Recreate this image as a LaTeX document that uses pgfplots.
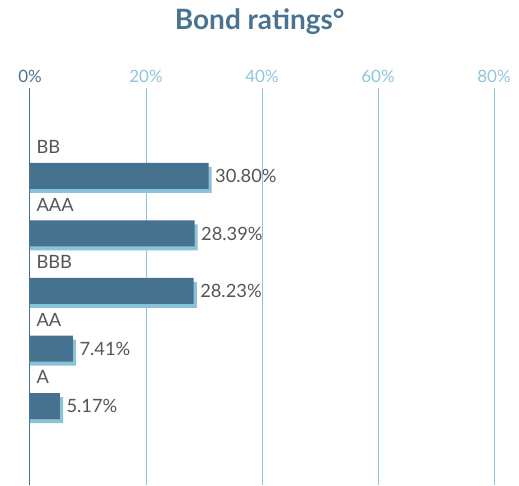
\documentclass[border=0pt]{standalone}
\usepackage{pgfplots}
\pgfplotsset{compat=1.18}
\usepackage{fontspec}
\setmainfont{Lato}
\definecolor{bardark}{HTML}{46718F}
\definecolor{barshadow}{HTML}{8AC2D8}
\definecolor{gridblue}{HTML}{8EC5DB}
\definecolor{titleblue}{HTML}{4A7391}
\definecolor{txtgray}{HTML}{555555}
\pgfplotstableread{
y val shadow
0 30.80 31.32
1 28.39 28.91
2 28.23 28.75
3 7.41 7.93
4 5.17 5.69
}\bonds
\begin{document}
\begin{tikzpicture}
\begin{axis}[
  scale only axis,
  width=464pt, height=397pt,
  xmin=0, xmax=80,
  ymin=-1.530, ymax=5.374,
  y dir=reverse,
  axis line style={draw=none},
  major tick length=0pt,
  xtick={20,40,60,80},
  extra x ticks={0},
  extra x tick style={grid style={bardark, line width=1pt}, tick label style={text=titleblue}},
  xticklabel pos=top,
  xticklabel={\pgfmathprintnumber{\tick}\%},
  ytick=\empty,
  xmajorgrids,
  grid style={gridblue, line width=0.8pt},
  tick label style={font=\fontsize{17}{19}\selectfont, text=gridblue},
  xticklabel style={yshift=2pt},
  /pgf/number format/assume math mode=true,
  xbar, bar width=26pt,
  clip=false,
]
\addplot[fill=barshadow, draw=none, bar shift=-4pt] table[x=shadow, y=y] {\bonds};
\addplot[fill=bardark, draw=none, bar shift=0pt,
  nodes near coords={\pgfmathprintnumber[fixed,fixed zerofill,precision=2]{\pgfplotspointmeta}\%},
  nodes near coords style={anchor=west, xshift=3pt, text=txtgray, font=\fontsize{18.3}{20}\selectfont, /pgf/number format/assume math mode=true},
  point meta=explicit] table[x=val, y=y, meta=val] {\bonds};
\node[anchor=west, text=txtgray, font=\fontsize{18.3}{20}\selectfont] at (axis cs:0,0) [xshift=3pt, yshift=29pt] {BB};
\node[anchor=west, text=txtgray, font=\fontsize{18.3}{20}\selectfont] at (axis cs:0,1) [xshift=3pt, yshift=29pt] {AAA};
\node[anchor=west, text=txtgray, font=\fontsize{18.3}{20}\selectfont] at (axis cs:0,2) [xshift=3pt, yshift=29pt] {BBB};
\node[anchor=west, text=txtgray, font=\fontsize{18.3}{20}\selectfont] at (axis cs:0,3) [xshift=3pt, yshift=29pt] {AA};
\node[anchor=west, text=txtgray, font=\fontsize{18.3}{20}\selectfont] at (axis cs:0,4) [xshift=3pt, yshift=29pt] {A};
\node[text=titleblue, font=\fontsize{28}{30}\bfseries] at (rel axis cs:0.495,1) [yshift=66pt] {Bond ratings°};
\end{axis}
\pgfresetboundingbox
\useasboundingbox ([xshift=-30pt]current axis.south west) rectangle ([xshift=25pt, yshift=88pt]current axis.north east);
\end{tikzpicture}
\end{document}
